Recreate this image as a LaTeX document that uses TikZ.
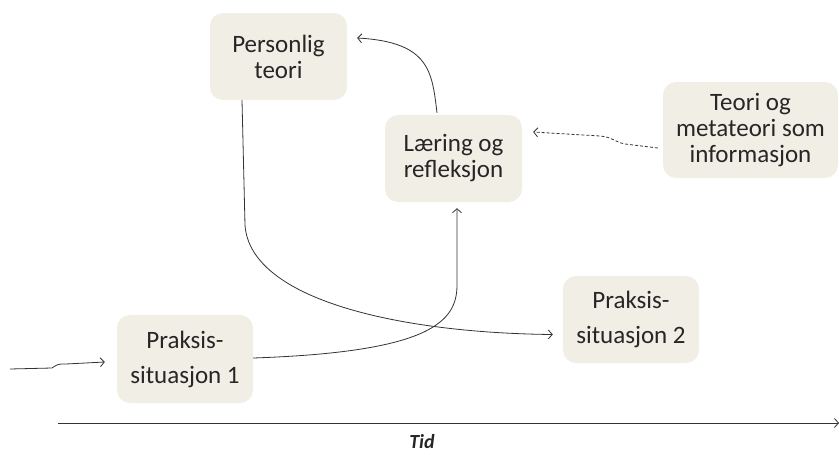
\documentclass[tikz,border=0pt]{standalone}
\usepackage{fontspec}
\setmainfont{Carlito}
\usetikzlibrary{arrows.meta,calc}
\definecolor{boxfill}{HTML}{F1EEE6}
\definecolor{txt}{HTML}{262626}
\definecolor{ln}{HTML}{333333}
\tikzset{
  box/.style={fill=boxfill, rounded corners=13pt, align=center, text=txt,
    font=\fontsize{25}{26}\selectfont, inner sep=0pt},
  conn/.style={draw=ln, line width=0.8pt, -{Straight Barb[length=4pt,width=9pt]}},
  dconn/.style={conn, dashed, dash pattern=on 3pt off 2pt}
}
\begin{document}
\begin{tikzpicture}[x=1pt,y=-1pt]
\useasboundingbox (0,0) rectangle (839,455);
\node[box, minimum width=137pt, minimum height=87pt] (pt) at (278.5,56.5) {Personlig\\teori};
\node[box, minimum width=137pt, minimum height=87pt] (lr) at (453.5,158.5) {Læring og\\refleksjon};
\node[box, minimum width=175pt, minimum height=96pt] (tm) at (750.5,130) {Teori og\\metateori som\\informasjon};
\node[box, minimum width=136pt, minimum height=88pt] (p1) at (185,359) {Praksis-\\[9pt]situasjon 1};
\node[box, minimum width=136pt, minimum height=87pt] (p2) at (631,319.5) {Praksis-\\[9pt]situasjon 2};
\node[font=\fontsize{20}{22}\selectfont\bfseries\itshape, text=txt, inner sep=0pt] (tid) at (422,442) {Tid};

\coordinate (in0) at (10,369);
\coordinate (ax0) at (58,423);
\coordinate (ax1) at (839,423);

% incoming arrow
\draw[conn] (in0) -- (52,368) .. controls (58,364) .. (66,364) -- ($(p1.west)+(-12,3)$);
% praksis 1 -> laering
\draw[conn] ($(p1.east)+(0,-1)$) .. controls (430,352) and (457,322) .. (457,285) -- ($(lr.south)+(3.5,6)$);
% personlig -> praksis 2
\draw[conn] ($(pt.south)+(-36.5,0)$) -- (245,225) .. controls (250,300) and (400,333) .. ($(p2.west)+(-10,15)$);
% laering -> personlig
\draw[conn] ($(lr.north)+(-16.5,-2)$) .. controls (432,72) and (430,42) .. ($(pt.east)+(10,-18.5)$);
% teori -> laering (dashed)
\draw[dconn] ($(tm.west)+(-5,18)$) -- (625,144) .. controls (615,142) and (612,137) .. (600,136) -- ($(lr.east)+(11,-26.5)$);
% time axis
\draw[conn] (ax0) -- (ax1);
\end{tikzpicture}
\end{document}
